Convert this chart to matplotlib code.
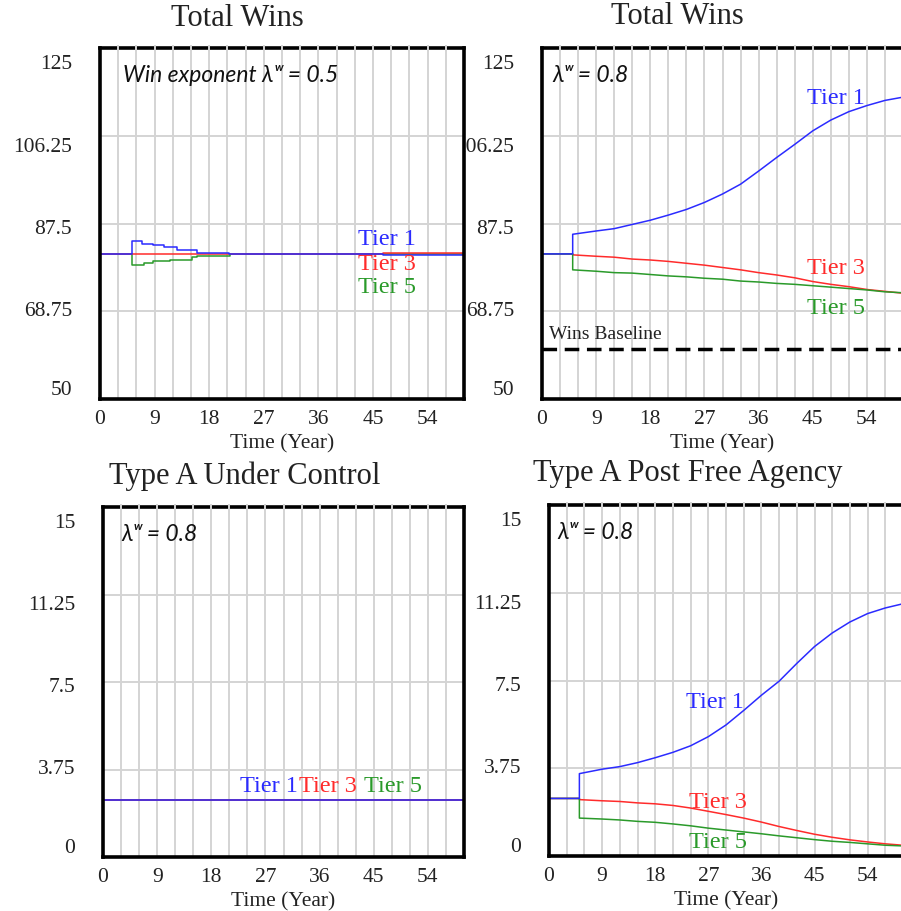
import numpy as np
import matplotlib
matplotlib.use("Agg")
import matplotlib.pyplot as plt
import matplotlib.transforms as mtransforms

# ---------------------------
# DATA
# ---------------------------
x_ticks = [0, 9, 18, 27, 36, 45, 54]

wins_ticks = [50, 68.75, 87.5, 106.25, 125]
wins_ticklabels = ["50", "68.75", "87.5", "106.25", "125"]
typea_ticks = [0, 3.75, 7.5, 11.25, 15]
typea_ticklabels = ["0", "3.75", "7.5", "11.25", "15"]

# top left: lambda = 0.5 (step series)
tl_t_tier1 = [0, 5.2, 6.9, 8.8, 10.5, 12.7, 16.0, 21.3, 46.7, 60]
tl_tier1 = [81, 83.7, 83.2, 82.8, 82.4, 81.8, 81.3, 81.0, 80.85, 80.85]
tl_t_tier3 = [0, 46.7, 60]
tl_tier3 = [81, 81.15, 81.15]
tl_t_tier5 = [0, 5.2, 7.2, 8.8, 11.6, 15.2, 16.0, 21.5, 60]
tl_tier5 = [81, 78.7, 79.1, 79.4, 79.8, 80.3, 80.65, 81, 81]

# top right: lambda = 0.8
tr_t = [0, 5.1, 5.1, 9, 12, 15, 18, 21, 24, 27, 30, 33, 36, 39, 42, 45, 48, 51, 54, 57, 60]
tr_tier1 = [81, 81, 85.2, 85.9, 86.4, 87.3, 88.2, 89.3, 90.5, 92.0, 93.8, 95.9, 98.7,
            101.6, 104.4, 107.3, 109.6, 111.4, 112.7, 113.8, 114.5]
tr_tier3 = [81, 81, 80.8, 80.5, 80.3, 79.9, 79.7, 79.4, 79.0, 78.6, 78.1, 77.6, 77.0,
            76.5, 75.9, 75.1, 74.5, 74.0, 73.4, 73.0, 72.6]
tr_tier5 = [81, 81, 77.6, 77.3, 77.0, 76.9, 76.6, 76.3, 76.1, 75.8, 75.6, 75.2, 75.0,
            74.7, 74.5, 74.2, 73.9, 73.6, 73.3, 72.9, 72.7]
wins_baseline = 60.75

# bottom left: type A under control
bl_t = [0, 60]
bl_tier1 = [2.46, 2.46]
bl_tier3 = [2.46, 2.46]
bl_tier5 = [2.46, 2.46]

# bottom right: type A post free agency
br_t = [0, 5.15, 5.15, 9, 12, 15, 18, 21, 24, 27, 30, 33, 36, 39, 42, 45, 48, 51, 54, 57, 60]
br_tier1 = [2.46, 2.46, 3.52, 3.71, 3.82, 3.99, 4.20, 4.43, 4.71, 5.10, 5.60, 6.22, 6.87,
            7.47, 8.23, 8.95, 9.53, 10.0, 10.36, 10.6, 10.78]
br_tier3 = [2.46, 2.46, 2.41, 2.36, 2.33, 2.27, 2.23, 2.16, 2.05, 1.91, 1.77, 1.62, 1.45,
            1.26, 1.09, 0.93, 0.80, 0.69, 0.60, 0.52, 0.46]
br_tier5 = [2.46, 2.46, 1.62, 1.58, 1.54, 1.48, 1.44, 1.37, 1.29, 1.19, 1.11, 1.03, 0.95,
            0.86, 0.78, 0.70, 0.63, 0.58, 0.52, 0.46, 0.43]

# ---------------------------
# STYLE
# ---------------------------
BLUE = "#2b2bff"
RED = "#ff2b2b"
GREEN = "#2a9a2a"
GRID = "#d4d4d4"
SERIF = "Liberation Serif"
ANNOT = ["Lato", "DejaVu Sans"]
TIER_FS = 17.5
ANNOT_FS = 16.5
LW = 1.1

W, H = 901, 912
fig = plt.figure(figsize=(W / 100, H / 100), dpi=100)


def make_axes(l, r, t, b):
    return fig.add_axes([l / W, 1 - b / H, (r - l) / W, (b - t) / H])


def style_axes(ax, yticks, ylabels, ylim):
    ax.set_xlim(0, 60)
    ax.set_ylim(*ylim)
    ax.set_xticks(x_ticks)
    ax.set_xticks(np.arange(0, 61, 3), minor=True)
    ax.set_yticks(yticks)
    ax.set_yticklabels(ylabels)
    ax.tick_params(which="both", length=0)
    ax.tick_params(axis="y", pad=20, labelsize=15.5, labelcolor="#222222")
    ax.tick_params(axis="x", pad=7, labelsize=15.5, labelcolor="#222222")
    for lab in ax.get_xticklabels() + ax.get_yticklabels():
        lab.set_fontfamily(SERIF)
    ax.grid(which="both", axis="x", color=GRID, lw=1.4)
    ax.grid(which="major", axis="y", color=GRID, lw=1.4)
    ax.set_axisbelow(True)
    for s in ax.spines.values():
        s.set_linewidth(2.6)
        s.set_color("black")
    # light gaps in the top border where vertical grid lines cross
    ax.vlines(np.arange(3, 60, 3), 0.992, 1.008, transform=ax.get_xaxis_transform(),
              color=GRID, lw=1.4, zorder=3, clip_on=False)
    # labels sit a little off the grid lines, like the original
    shifts_px = [-12, -3.5, 2.5, 8, 13]
    for lab, dy in zip(ax.get_yticklabels(), shifts_px):
        lab.set_transform(lab.get_transform() +
                          mtransforms.ScaledTranslation(0, -dy / 100, fig.dpi_scale_trans))
    ax.set_xlabel("Time (Year)", fontfamily=SERIF, fontsize=15.5, labelpad=4, color="#222222")


def annotate(ax, x, s):
    ax.text(x, 0.925, s, transform=ax.transAxes, family=ANNOT,
            style="italic", fontsize=ANNOT_FS, va="center", color="#111111")


def tier(ax, x, y, s, c):
    ax.text(x, y, s, color=c, fontfamily=SERIF, fontsize=TIER_FS, va="center")


# right column first so the left axes cover the clipped tick labels
ax_tr = make_axes(542, 903, 49, 400)
ax_tl = make_axes(100, 464, 49, 400)
ax_br = make_axes(549, 903, 506, 857)
ax_bl = make_axes(103, 464, 508, 858)

# --- top left
ax = ax_tl
style_axes(ax, wins_ticks, wins_ticklabels, (50, 125))
ax.plot(tl_t_tier5, tl_tier5, color=GREEN, lw=LW, drawstyle="steps-post")
ax.plot(tl_t_tier3, tl_tier3, color=RED, lw=LW, drawstyle="steps-post")
ax.plot(tl_t_tier1, tl_tier1, color=BLUE, lw=LW, drawstyle="steps-post")
tier(ax, 42.5, 84.2, "Tier 1", BLUE)
tier(ax, 42.5, 79.0, "Tier 3", RED)
tier(ax, 42.5, 74.0, "Tier 5", GREEN)
annotate(ax, 0.063, "Win exponent λʷ = 0.5")

# --- top right
ax = ax_tr
style_axes(ax, wins_ticks, wins_ticklabels, (50, 125))
ax.plot(tr_t, tr_tier3, color=RED, lw=LW)
ax.plot(tr_t, tr_tier5, color=GREEN, lw=LW)
ax.plot(tr_t, tr_tier1, color=BLUE, lw=LW)
ax.axhline(wins_baseline, color="black", lw=2.5, dashes=(4.2, 2.2))
tier(ax, 44.1, 114.4, "Tier 1", BLUE)
tier(ax, 44.1, 78.2, "Tier 3", RED)
tier(ax, 44.1, 69.6, "Tier 5", GREEN)
ax.text(1.2, 63.9, "Wins Baseline", fontfamily=SERIF, fontsize=14, va="center", color="#222222")
annotate(ax, 0.03, "λʷ = 0.8")

# --- bottom left
ax = ax_bl
style_axes(ax, typea_ticks, typea_ticklabels, (0, 15))
ax.plot(bl_t, bl_tier5, color=GREEN, lw=LW)
ax.plot(bl_t, bl_tier3, color=RED, lw=LW)
ax.plot(bl_t, bl_tier1, color=BLUE, lw=LW)
tier(ax, 22.8, 3.07, "Tier 1", BLUE)
tier(ax, 32.6, 3.07, "Tier 3", RED)
tier(ax, 43.4, 3.07, "Tier 5", GREEN)
annotate(ax, 0.05, "λʷ = 0.8")

# --- bottom right
ax = ax_br
style_axes(ax, typea_ticks, typea_ticklabels, (0, 15))
ax.plot(br_t, br_tier3, color=RED, lw=LW)
ax.plot(br_t, br_tier5, color=GREEN, lw=LW)
ax.plot(br_t, br_tier1, color=BLUE, lw=LW)
tier(ax, 23.3, 6.59, "Tier 1", BLUE)
tier(ax, 23.8, 2.35, "Tier 3", RED)
tier(ax, 23.8, 0.62, "Tier 5", GREEN)
annotate(ax, 0.025, "λʷ = 0.8")

# titles (centred over tick labels + plot, not the plot alone)
for x, y, s in [(237, 18, "Total Wins"), (677, 17, "Total Wins"),
                (245, 476, "Type A Under Control"), (688, 474, "Type A Post Free Agency")]:
    fig.text(x / W, 1 - y / H, s, ha="center", va="center", fontfamily=SERIF,
             fontsize=22, color="#222222")

fig.savefig("out.png", dpi=100)
